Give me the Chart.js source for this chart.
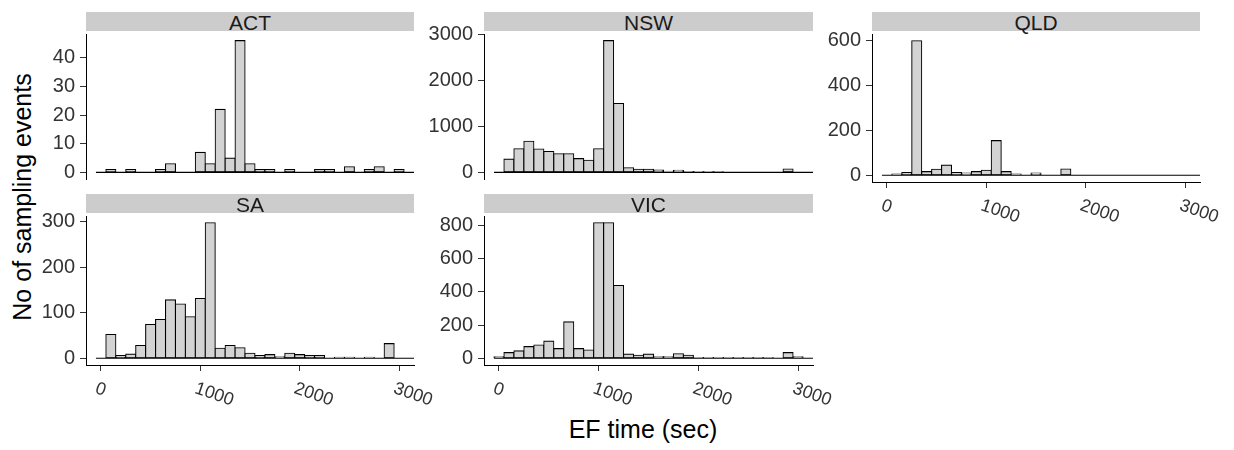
<!DOCTYPE html>
<html>
<head>
<meta charset="utf-8">
<script src="https://cdn.jsdelivr.net/npm/chart.js@4.4.0/dist/chart.umd.min.js"></script>
<style>
  body { margin: 0; background: #fff; width: 1234px; height: 450px; position: relative; overflow: hidden;
         font-family: "Liberation Sans", Arial, sans-serif; }
  .strip { position: absolute; background: #cccccc; color: #1a1a1a; font-size: 21px; line-height: 22px;
           height: 19px; text-align: center; overflow: visible; }
  canvas { position: absolute; }
  .title { position: absolute; font-size: 25px; line-height: 25px; white-space: nowrap; color: #000; }
</style>
</head>
<body>
<div id="ytitle" class="title" style="left:22px; top:197px; transform: translate(-50%, -50%) rotate(-90deg);">No of sampling events</div>
<div id="xtitle" class="title" style="left:643px; top:417px; transform: translateX(-50%);">EF time (sec)</div>
<script>
// bin centres (sec) and x tick labels, shared by every panel
const binCenters = [0, 100, 200, 300, 400, 500, 600, 700, 800, 900, 1000, 1100, 1200, 1300, 1400, 1500,
                    1600, 1700, 1800, 1900, 2000, 2100, 2200, 2300, 2400, 2500, 2600, 2700, 2800, 2900, 3000, 3100];
const xTicks = [0, 1000, 2000, 3000];

// counts per bin
const actCounts = [0, 1, 0, 1, 0, 0, 1, 3, 0, 0, 7, 3, 22, 5, 46, 3, 1, 1, 0, 1, 0, 0, 1, 1, 0, 2, 0, 1, 2, 0, 1, 0];
const nswCounts = [0, 290, 515, 680, 510, 455, 405, 405, 300, 266, 515, 2870, 1500, 100, 70, 70, 50, 25, 45, 20, 15, 12, 10, 0, 0, 0, 0, 0, 0, 75, 0, 0];
const qldCounts = [0, 5, 12, 598, 16, 27, 45, 12, 10, 16, 22, 154, 16, 5, 0, 10, 0, 0, 28, 0, 0, 0, 0, 0, 0, 0, 0, 0, 0, 0, 0, 0];
const saCounts  = [0, 52, 6, 9, 28, 74, 85, 128, 119, 91, 131, 297, 22, 28, 23, 11, 6, 8, 3, 11, 8, 6, 6, 0, 2, 2, 0, 2, 0, 32, 0, 0];
const vicCounts = [8, 34, 44, 70, 80, 103, 58, 219, 58, 50, 816, 816, 438, 25, 18, 25, 8, 8, 27, 18, 4, 4, 4, 4, 4, 4, 4, 4, 0, 34, 8, 0];

// y tick labels per panel
const actTicks = [0, 10, 20, 30, 40];
const nswTicks = [0, 1000, 2000, 3000];
const qldTicks = [0, 200, 400, 600];
const saTicks  = [0, 100, 200, 300];
const vicTicks = [0, 200, 400, 600, 800];

// layout of the facet grid
const colLeft = [86, 484, 872];
const colWidth = [328, 329, 328];
const rowTop = [31, 213];
const rowHeight = [151, 152];
const yAxisW = 60, padTop = 14, xAxisH = 50, padRight = 40;

const FONT = '"Liberation Sans", Arial, sans-serif';
Chart.defaults.font.family = FONT;

const panelExtras = {
  id: 'panelExtras',
  afterDatasetsDraw(chart) {
    // zero-height bins show up as a flat line along 0
    const {ctx, chartArea, scales: {x, y}} = chart;
    const half = (binCenters[1] - binCenters[0]) / 2;
    const x0 = Math.max(x.getPixelForValue(binCenters[0] - half), chartArea.left);
    const x1 = Math.min(x.getPixelForValue(binCenters[binCenters.length - 1] + half), chartArea.right);
    const y0 = y.getPixelForValue(0);
    ctx.save();
    ctx.strokeStyle = '#000';
    ctx.lineWidth = 1.1;
    ctx.beginPath();
    ctx.moveTo(x0, y0);
    ctx.lineTo(x1, y0);
    ctx.stroke();
    ctx.restore();
  },
  afterDraw(chart, args, opts) {
    if (!opts.xLabels) return;
    const {ctx, chartArea, scales: {x}} = chart;
    ctx.save();
    ctx.fillStyle = '#333';
    ctx.font = '18px ' + FONT;
    ctx.textAlign = 'left';
    ctx.textBaseline = 'middle';
    x.ticks.forEach(t => {
      const px = x.getPixelForValue(t.value);
      ctx.save();
      ctx.translate(px - 5, chartArea.bottom + 23);
      ctx.rotate(19 * Math.PI / 180);
      ctx.fillText(String(t.value), 0, 0);
      ctx.restore();
    });
    ctx.restore();
  }
};

function makePanel(name, counts, yTicks, col, row, showX) {
  const left = colLeft[col], top = rowTop[row], w = colWidth[col], h = rowHeight[row];

  const strip = document.createElement('div');
  strip.className = 'strip';
  strip.textContent = name;
  strip.style.left = left + 'px';
  strip.style.width = w + 'px';
  strip.style.top = (top - 19.5) + 'px';
  document.body.appendChild(strip);

  const canvas = document.createElement('canvas');
  const bottom = showX ? xAxisH : 14;
  canvas.width = yAxisW + w + padRight;
  canvas.height = padTop + h + bottom;
  canvas.style.left = (left - yAxisW) + 'px';
  canvas.style.top = (top - padTop) + 'px';
  document.body.appendChild(canvas);

  const maxCount = Math.max(...counts);
  new Chart(canvas, {
    type: 'bar',
    data: {
      datasets: [{
        data: binCenters.map((c, i) => ({x: c, y: counts[i]})),
        backgroundColor: '#d3d3d3',
        borderColor: '#000',
        borderWidth: 1.1,
        borderSkipped: false,
        inflateAmount: 0.55,
        barPercentage: 1,
        categoryPercentage: 1
      }]
    },
    options: {
      responsive: false,
      animation: false,
      layout: { padding: { top: padTop, bottom: showX ? 0 : 14, left: 0, right: padRight } },
      plugins: {
        legend: { display: false },
        tooltip: { enabled: false },
        panelExtras: { xLabels: showX }
      },
      scales: {
        x: {
          type: 'linear',
          display: showX,
          min: -150,
          max: 3150,
          offset: false,
          afterBuildTicks: s => { s.ticks = xTicks.map(v => ({value: v})); },
          afterFit: s => { if (showX) s.height = xAxisH; },
          grid: { offset: false, drawOnChartArea: false, tickLength: 6, color: '#333' },
          border: { display: true, color: '#000', width: 1 },
          ticks: { display: false }
        },
        y: {
          min: -0.05 * maxCount,
          max: 1.05 * maxCount,
          afterBuildTicks: s => { s.ticks = yTicks.map(v => ({value: v})); },
          afterFit: s => { s.width = yAxisW; },
          grid: { drawOnChartArea: false, tickLength: 6, color: '#333' },
          border: { display: true, color: '#000', width: 1 },
          ticks: { color: '#333', padding: 5, autoSkip: false, font: { size: 20 }, callback: v => String(v) }
        }
      }
    },
    plugins: [panelExtras]
  });
}

makePanel('ACT', actCounts, actTicks, 0, 0, false);
makePanel('NSW', nswCounts, nswTicks, 1, 0, false);
makePanel('QLD', qldCounts, qldTicks, 2, 0, true);
makePanel('SA', saCounts, saTicks, 0, 1, true);
makePanel('VIC', vicCounts, vicTicks, 1, 1, true);
</script>
</body>
</html>
